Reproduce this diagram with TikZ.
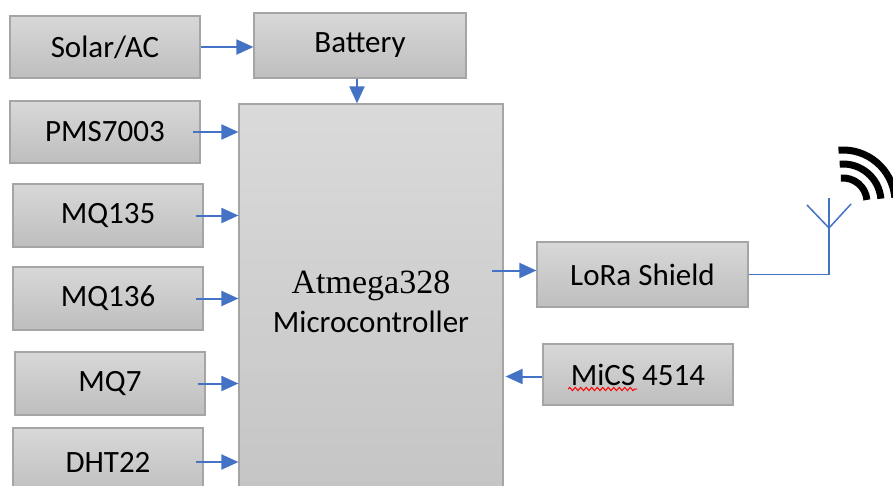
\documentclass[tikz,border=0pt]{standalone}
\usepackage{fontspec}
\setmainfont{Carlito}
\newfontfamily\serifname{Liberation Serif}
\usepackage{xcolor}
\usetikzlibrary{arrows.meta,decorations.pathmorphing}
\definecolor{box-top}{RGB}{216,216,216}
\definecolor{box-bottom}{RGB}{190,190,190}
\definecolor{box-line}{RGB}{165,165,165}
\definecolor{flow-blue}{RGB}{68,114,196}
\tikzset{
    grey-box/.style = {draw=box-line, line width=1.2pt, top color=box-top, bottom color=box-bottom, rectangle, inner sep=0pt, text=black, font=\fontsize{31}{37}\selectfont},
    mcu-box/.style = {grey-box, top color=box-top!95!white, bottom color=box-bottom!90!white},
    flow-arrow/.style = {draw=flow-blue, line width=2pt, -{Triangle[length=17pt, width=15pt]}},
    aerial/.style = {draw=flow-blue, line width=1.5pt},
    signal/.style = {draw=black, line width=7pt},
    spell-mark/.style = {draw=red, line width=1pt, decorate, decoration={snake, amplitude=1.6pt, segment length=5.5pt}},
}

\begin{document}
\begin{tikzpicture}[x=1pt, y=-1pt]
\clip (0,0) rectangle (893,485);
\fill[white] (0,0) rectangle (893,485);

\node [grey-box, minimum width=190pt, minimum height=62pt] (solar) at (105,47) {Solar/AC};
\node [grey-box, minimum width=212pt, minimum height=65pt] (battery) at (360,45.5) {Battery};
\node [grey-box, minimum width=190pt, minimum height=62pt] (pms) at (105,132) {PMS7003};
\node [grey-box, minimum width=190pt, minimum height=63pt] (mq135) at (108,215.5) {MQ135};
\node [grey-box, minimum width=190pt, minimum height=63pt] (mq136) at (108,298.5) {MQ136};
\node [grey-box, minimum width=190pt, minimum height=63pt] (mq7) at (110,383.5) {MQ7};
\node [grey-box, minimum width=190pt, minimum height=68pt] (dht) at (108,462) {DHT22};
\node [mcu-box, minimum width=264pt, minimum height=396pt, align=center] (mcu) at (371,302)
    {{\serifname\fontsize{34}{40}\selectfont Atmega328}\\[2pt]Microcontroller};
\node [grey-box, minimum width=211pt, minimum height=65pt] (lora) at (642.5,274.5) {LoRa Shield};
\node [grey-box, minimum width=190pt, minimum height=61pt] (mics) at (638,374.5) {MiCS 4514};
\draw [spell-mark] (568,389) -- (637,389);

\draw [flow-arrow] (solar.east) -- (solar.east -| battery.west);
\draw [flow-arrow] ([xshift=-3pt]battery.south) -- ([xshift=-3pt]battery.south |- mcu.north);
\foreach \src in {pms, mq135, mq136, mq7, dht}
    \draw [flow-arrow] ([xshift=-8pt]\src.east) -- (\src.east -| mcu.west);
\draw [flow-arrow] ([xshift=-12pt, yshift=4pt]lora.west -| mcu.east) -- ([yshift=4pt]lora.west);
\draw [flow-arrow] ([yshift=-2pt]mics.west) -- ([xshift=2pt, yshift=-2pt]mics.west -| mcu.east);

\coordinate (mast) at (829,228);
\draw [aerial] (lora.east) -| (829,198);
\draw [aerial] (807,205) -- (mast) -- (851,204);

\coordinate (sig) at (843,202);
\foreach \r in {24,38,52}
    \draw [signal] ([shift={(-95:\r)}]sig) arc[start angle=-95, end angle=-5, radius=\r];
\end{tikzpicture}
\end{document}
